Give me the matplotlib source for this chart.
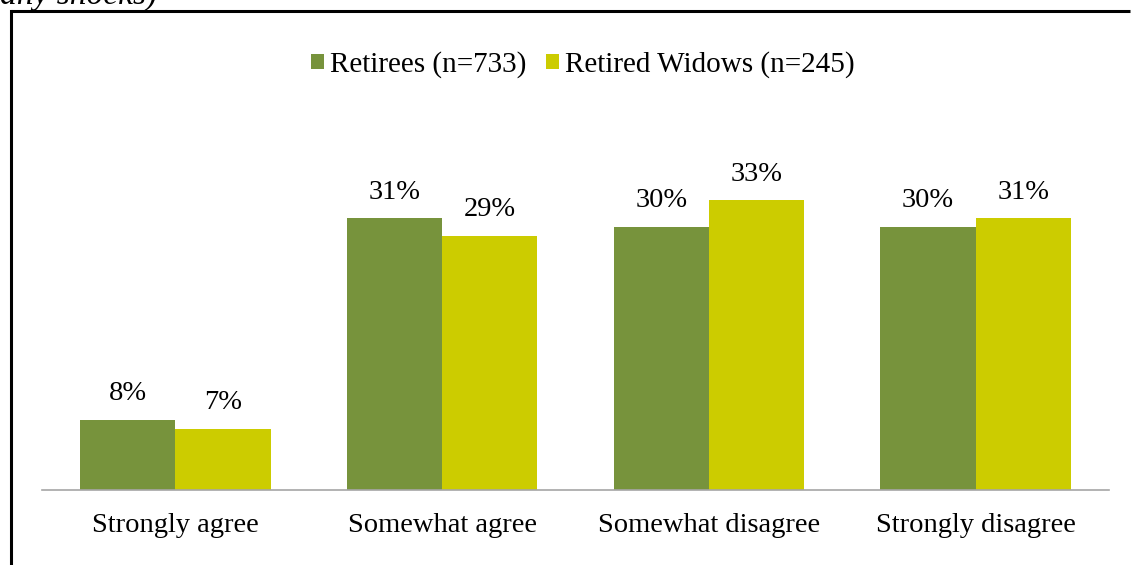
import matplotlib
matplotlib.use("Agg")
import matplotlib.pyplot as plt
from matplotlib.patches import Patch
from matplotlib.lines import Line2D
import numpy as np

categories = ["Strongly agree", "Somewhat agree", "Somewhat disagree", "Strongly disagree"]
retirees = [8, 31, 30, 30]
widows = [7, 29, 33, 31]
series_names = ["Retirees (n=733)", "Retired Widows (n=245)"]
colors = ["#77933C", "#CCCC00"]

plt.rcParams['font.family'] = ['Liberation Serif', 'DejaVu Serif']

W, H = 1131, 565
fig = plt.figure(figsize=(W / 100, H / 100), dpi=100)

# axes placement in pixels
left_px, right_px, base_px, top_px = 42, 1109, 490, 139
ax = fig.add_axes([left_px / W, (H - base_px) / H, (right_px - left_px) / W, (base_px - top_px) / H])

x = np.arange(len(categories))
bw = 0.357
b1 = ax.bar(x - bw / 2, retirees, bw, color=colors[0], label=series_names[0])
b2 = ax.bar(x + bw / 2, widows, bw, color=colors[1], label=series_names[1])

for bars, vals in ((b1, retirees), (b2, widows)):
    for r, v in zip(bars, vals):
        ax.annotate(f"{v}%", (r.get_x() + r.get_width() / 2, r.get_height()),
                    xytext=(0, 14), textcoords="offset points",
                    ha="center", va="baseline", fontsize=20.5, color="black")

ax.set_xlim(-0.5, 3.5)
ax.set_ylim(0, 40)
ax.set_xticks(x)
ax.set_xticklabels(categories, fontsize=20.5)
ax.tick_params(axis='x', length=0, pad=16.5)
ax.set_yticks([])
for s in ["top", "right", "left"]:
    ax.spines[s].set_visible(False)
ax.spines["bottom"].set_color("#A6A6A6")
ax.spines["bottom"].set_linewidth(1.2)

handles = [Patch(facecolor=colors[0]), Patch(facecolor=colors[1])]
fig.legend(handles, series_names, loc="center", bbox_to_anchor=(583 / W, 1 - 65 / H),
           ncol=2, frameon=False, fontsize=21, handlelength=0.42, handleheight=0.42,
           handletextpad=0.22, columnspacing=0.68, borderaxespad=0, borderpad=0)

# outer frame (top and left edges)
fig.add_artist(Line2D([11 / W, 11 / W], [0, 1 - 11 / H], transform=fig.transFigure,
                      color="black", linewidth=2.2, solid_capstyle="projecting"))
fig.add_artist(Line2D([11 / W, 1130 / W], [1 - 11 / H, 1 - 11 / H], transform=fig.transFigure,
                      color="black", linewidth=2.2, solid_capstyle="butt"))

# cut-off caption text at top
fig.text(0.0, 1 - 4 / H, "any shocks)", fontsize=24, style="italic", ha="left", va="baseline")

fig.savefig("out.png", dpi=100)
